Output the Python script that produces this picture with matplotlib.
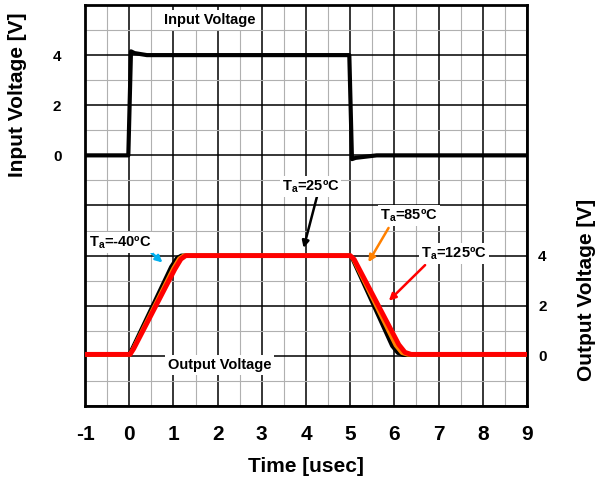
import matplotlib.pyplot as plt
import numpy as np

plt.rcParams['font.family'] = ['Liberation Sans', 'DejaVu Sans']
plt.rcParams['mathtext.fontset'] = 'custom'
plt.rcParams['mathtext.rm'] = 'Liberation Sans:bold'
plt.rcParams['mathtext.bf'] = 'Liberation Sans:bold'
plt.rcParams['axes.unicode_minus'] = False

# input step (left axis)
t_in = [-1, -0.02, 0.04, 0.12, 0.4, 4.98, 5.04, 5.12, 5.6, 9]
v_in = [0.0, 0.0, 4.15, 4.08, 4.0, 4.0, -0.15, -0.1, 0.0, 0.0]

# output curves (right axis)
t_black = [-1, 0.0, 0.06, 0.95, 1.08, 1.18, 5.0, 5.05, 5.95, 6.08, 6.2, 9]
v_black = [0.05, 0.05, 0.25, 3.55, 3.9, 4.0, 4.0, 3.88, 0.4, 0.12, 0.04, 0.04]
t_orange = [-1, 0.01, 0.08, 1.0, 1.13, 1.23, 5.0, 5.07, 6.03, 6.17, 6.3, 9]
v_orange = [0.05, 0.05, 0.25, 3.5, 3.88, 4.0, 4.0, 3.86, 0.42, 0.12, 0.05, 0.05]
t_red = [-1, 0.02, 0.1, 1.03, 1.17, 1.28, 5.0, 5.09, 6.1, 6.24, 6.38, 9]
v_red = [0.06, 0.06, 0.28, 3.45, 3.86, 4.0, 4.0, 3.85, 0.45, 0.14, 0.06, 0.06]

fig = plt.figure(figsize=(5.97, 4.79), dpi=100)
ax = fig.add_axes([0.1424, 0.1524, 0.7403, 0.8372])
ax.set_xlim(-1, 9)
ax.set_ylim(-10, 6)

ax.set_xticks(np.arange(-1, 10, 1))
ax.set_xticks(np.arange(-1, 9.01, 0.5), minor=True)
ax.set_yticks(np.arange(-10, 7, 2))
ax.set_yticks(np.arange(-10, 7, 1), minor=True)
ax.set_yticklabels(['4' if v == 4 else '2' if v == 2 else '0' if v == 0 else ''
                    for v in range(-10, 7, 2)])
ax.grid(which='major', color='black', lw=1.1)
ax.grid(which='minor', color='#b0b0b0', lw=0.8)
ax.set_axisbelow(True)
ax.tick_params(which='both', length=0)
ax.tick_params(axis='x', labelsize=15, pad=14)
ax.tick_params(axis='y', labelsize=11, pad=17)
for lab in ax.get_xticklabels() + ax.get_yticklabels():
    lab.set_fontweight('bold')
for s in ax.spines.values():
    s.set_linewidth(2)

ax.plot(t_in, v_in, color='black', lw=3, zorder=3)
ax.text(1.83, 5.4, 'Input Voltage', fontsize=10.5, fontweight='bold', ha='center', va='center',
        bbox=dict(facecolor='white', edgecolor='none', pad=2), zorder=4)

ax2 = ax.twinx()
ax2.set_ylim(-2, 14)
ax2.set_yticks([0, 2, 4])
ax2.tick_params(length=0, labelsize=11, pad=8)
for lab in ax2.get_yticklabels():
    lab.set_fontweight('bold')
for s in ax2.spines.values():
    s.set_visible(False)

ax2.plot(t_black, v_black, color='black', lw=3, zorder=3)
ax2.plot(t_orange, v_orange, color='#ff8000', lw=3, zorder=3)
ax2.plot(t_red, v_red, color='#ff0000', lw=3.5, zorder=3)

ax2.text(2.05, -0.36, 'Output Voltage', fontsize=10.5, fontweight='bold', ha='center', va='center',
         bbox=dict(facecolor='white', edgecolor='none', pad=2), zorder=4)

box = dict(facecolor='white', edgecolor='none', pad=1.5)
ax2.annotate('', xy=(0.8, 3.65), xytext=(0.45, 4.2),
             arrowprops=dict(arrowstyle='-|>', color='#00b0f0', lw=1.8, mutation_scale=10), zorder=5)
ax2.text(-0.21, 4.52, r'T$_{\mathbf{a}}$=-40ºC', fontsize=10.5, fontweight='bold', ha='center', va='center',
         bbox=box, zorder=6)

ax2.annotate('', xy=(3.93, 4.2), xytext=(4.27, 6.5),
             arrowprops=dict(arrowstyle='-|>', color='black', lw=1.8, mutation_scale=10), zorder=5)
ax2.text(4.1, 6.76, r'T$_{\mathbf{a}}$=25ºC', fontsize=10.5, fontweight='bold', ha='center', va='center',
         bbox=box, zorder=6)

ax2.annotate('', xy=(5.38, 3.64), xytext=(5.9, 5.2),
             arrowprops=dict(arrowstyle='-|>', color='#ff8000', lw=1.8, mutation_scale=10), zorder=5)
ax2.text(6.33, 5.6, r'T$_{\mathbf{a}}$=85ºC', fontsize=10.5, fontweight='bold', ha='center', va='center',
         bbox=box, zorder=6)

ax2.annotate('', xy=(5.83, 2.12), xytext=(6.74, 3.7),
             arrowprops=dict(arrowstyle='-|>', color='#ff0000', lw=1.8, mutation_scale=10), zorder=5)
ax2.text(7.35, 4.08, r'T$_{\mathbf{a}}$=125ºC', fontsize=10.5, fontweight='bold', ha='center', va='center',
         bbox=box, zorder=6)

fig.text(306 / 597, 1 - 466 / 479, 'Time [usec]', fontsize=15, fontweight='bold', ha='center', va='center')
fig.text(18 / 597, 1 - 95 / 479, 'Input Voltage [V]', fontsize=15, fontweight='bold', rotation=90,
         ha='center', va='center')
fig.text(587 / 597, 1 - 290 / 479, 'Output Voltage [V]', fontsize=15, fontweight='bold', rotation=90,
         ha='center', va='center')

fig.savefig('out.png', dpi=100)
